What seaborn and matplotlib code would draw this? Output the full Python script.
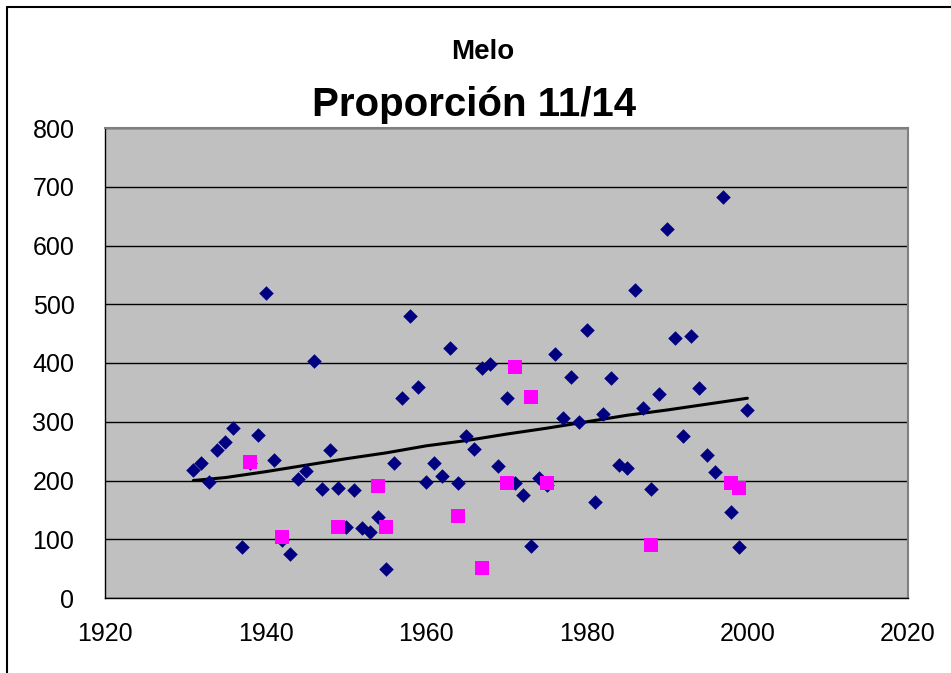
import numpy as np
import pandas as pd
import matplotlib
matplotlib.use("Agg")
import matplotlib.pyplot as plt
import seaborn as sns
from matplotlib.lines import Line2D

# blue diamonds, one per year
years = list(range(1931, 2001))
values = [218, 230, 197, 252, 266, 289, 86, 230, 277, 520,
          235, 99, 75, 203, 217, 403, 186, 252, 188, 121,
          183, 119, 112, 138, 49, 229, 341, 480, 360, 197,
          229, 207, 426, 195, 276, 254, 392, 398, 224, 340,
          195, 175, 89, 204, 193, 415, 306, 377, 300, 457,
          163, 313, 375, 226, 221, 524, 324, 186, 348, 628,
          443, 275, 446, 357, 243, 215, 683, 146, 86, 320]

# pink squares
pink_years = [1938, 1942, 1949, 1954, 1955, 1964, 1967, 1970, 1971, 1973, 1975, 1988, 1998, 1999]
pink_values = [231, 104, 121, 190, 121, 140, 51, 196, 393, 342, 196, 90, 196, 187]

# trend line
trend_years = [1931, 1935, 1940, 1945, 1950, 1955, 1960, 1965, 1970, 1975, 1980, 1985, 1990, 1995, 2000]
trend_values = [200, 205, 215, 226, 237, 247, 259, 268, 279, 289, 300, 311, 320, 330, 340]

df = pd.DataFrame({"year": years, "value": values})
pk = pd.DataFrame({"year": pink_years, "value": pink_values})
tr = pd.DataFrame({"year": trend_years, "value": trend_values})

sns.set_style("white")
plt.rcParams["font.family"] = ["Liberation Sans", "DejaVu Sans"]
plt.rcParams["text.color"] = "black"
plt.rcParams["xtick.color"] = "black"
plt.rcParams["ytick.color"] = "black"

fig = plt.figure(figsize=(9.51, 6.73), dpi=100)
ax = fig.add_axes([105/951, 1-598/673, (908-105)/951, (598-128)/673])
ax.set_facecolor("#C0C0C0")

sns.lineplot(data=tr, x="year", y="value", color="black", linewidth=2.2, ax=ax, zorder=2)
sns.scatterplot(data=df, x="year", y="value", marker="D", s=55, color="#000080",
                edgecolor="#000080", linewidth=0, ax=ax, zorder=3)
sns.scatterplot(data=pk, x="year", y="value", marker="s", s=88, color="#FF00FF",
                edgecolor="#FF00FF", linewidth=0, ax=ax, zorder=4)

ax.set_xlim(1920, 2020)
ax.set_ylim(0, 800)
ax.set_xticks(range(1920, 2021, 20))
ax.set_yticks(range(0, 801, 100))
ax.yaxis.grid(True, color="black", linewidth=1)
ax.xaxis.grid(False)
ax.set_axisbelow(True)
ax.set_xlabel("")
ax.set_ylabel("")
for s in ax.spines.values():
    s.set_color("#808080")
    s.set_linewidth(1.5)
ax.spines["left"].set_color("black")
ax.spines["bottom"].set_color("black")
ax.spines["left"].set_linewidth(1)
ax.spines["bottom"].set_linewidth(1)
ax.tick_params(axis="both", labelsize=18, direction="out", length=6, width=1,
               color="black", labelcolor="black")
ax.tick_params(axis="y", pad=16)
ax.tick_params(axis="x", pad=11)

fig.text(0.508, 1-59/673, "Melo", ha="center", va="baseline", fontsize=20, fontweight="bold", color="black")
fig.text(0.498, 1-116.5/673, "Proporción 11/14", ha="center", va="baseline", fontsize=29, fontweight="bold", color="black")

# outer chart border (only left and top visible)
fig.lines.append(Line2D([7/951, 7/951], [0, 1-7/673], transform=fig.transFigure, color="black", linewidth=1.5))
fig.lines.append(Line2D([7/951, 1], [1-7/673, 1-7/673], transform=fig.transFigure, color="black", linewidth=1.5))

fig.savefig("out.png", dpi=100)
